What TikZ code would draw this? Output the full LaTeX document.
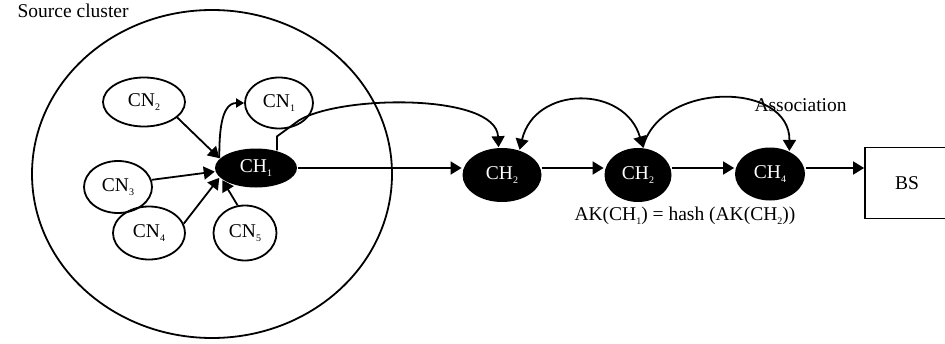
\documentclass[tikz,border=0pt]{standalone}
\usepackage{fontspec}
\setmainfont{Liberation Serif}
\usetikzlibrary{arrows.meta, shapes.geometric}
\newcommand{\idx}[1]{\raisebox{-0.45ex}{\fontsize{5}{6}\selectfont #1}}

\begin{document}
\begin{tikzpicture}[
    x=0.5pt, y=0.5pt,
    >={Triangle[length=5.5pt, width=6.5pt]},
    line width=0.9pt,
    every node/.style={font=\fontsize{9.75}{11}\selectfont},
  ]
  \useasboundingbox (0,0) rectangle (945,343);

  % --- Source cluster ---
  \node[draw, ellipse, minimum width=180pt, minimum height=164pt] (cluster) at (212,169) {};
  \node[anchor=base west] (srclbl) at (10,325) {Source cluster};

  \tikzset{
    member/.style={draw, ellipse, inner sep=0pt},
    head/.style={ellipse, fill=black, text=white, inner sep=0pt},
  }

  % --- Cluster nodes ---
  \node[member, minimum width=41pt, minimum height=24.5pt] (CN2) at (144,241) {CN\idx{2}};
  \node[member, minimum width=34pt, minimum height=25.5pt] (CN1) at (279,240) {CN\idx{1}};
  \node[member, minimum width=34pt, minimum height=26pt]   (CN3) at (118,156) {CN\idx{3}};
  \node[member, minimum width=36pt, minimum height=26.5pt] (CN4) at (149,110) {CN\idx{4}};
  \node[member, minimum width=31.5pt, minimum height=27.5pt] (CN5) at (245,110) {CN\idx{5}};

  % --- Cluster heads along the route ---
  \node[head, minimum width=41pt, minimum height=19.5pt]   (CH1)  at (256,175) {CH\idx{1}};
  \node[head, minimum width=39.5pt, minimum height=27pt]   (CH2a) at (502,168) {CH\idx{2}};
  \node[head, minimum width=33.5pt, minimum height=27pt]   (CH2b) at (638,168) {CH\idx{2}};
  \node[head, minimum width=35pt, minimum height=26.5pt]   (CH4)  at (770,169) {CH\idx{4}};

  % --- Base station ---
  \node[draw, rectangle, minimum width=42pt, minimum height=35.5pt] (BS) at (907,160) {BS};

  % --- Labels ---
  \node[anchor=base west] (assoc) at (747,231) {Association};
  \node[anchor=base west] (hashlbl) at (567,123) {AK(CH\idx{1}) = hash (AK(CH\idx{2}))};

  % --- Members reporting to CH1 ---
  \draw[->] (CN2.-25) -- (CH1.165);
  \draw[->] (CN3.12)  -- (CH1.185);
  \draw[->] (CN4.15)  -- (CH1.195);
  \draw[->] (CN5.105) -- (CH1.200);
  \draw[-{Triangle[length=4pt, width=4.5pt]}] (CH1.165) to[out=90, in=180] (CN1.west);

  % --- Forwarding towards BS ---
  \draw[->] (CH1.east) -- (CH2a.west |- CH1.east);
  \draw[->] (CH2a.east |- CH1) -- (CH2b.west |- CH1);
  \draw[->] (CH2b.east |- CH1) -- (CH4.west |- CH1);
  \draw[->] (CH4.east |- CH1) -- (BS.west |- CH1);

  % --- Association between heads ---
  \draw[->] (CH1.40) -- ++(0,14) -- ++(22,16)
    .. controls (340,248) and (496,250) .. (CH2a.97);
  \draw[<->] (CH2a.55) .. controls (535,258) and (625,258) .. (CH2b.80);
  \draw[->] (CH2b.80) .. controls (660,262) and (790,262) .. (CH4.50);

\end{tikzpicture}
\end{document}
